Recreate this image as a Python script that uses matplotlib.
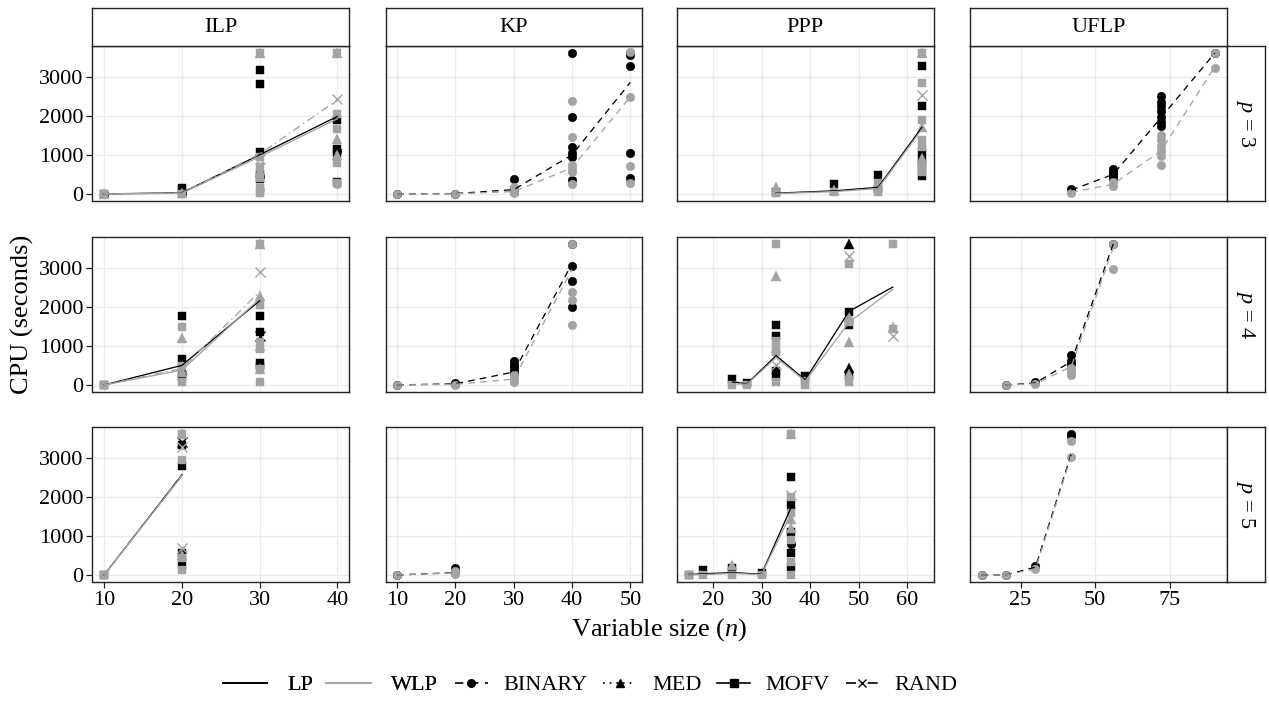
import matplotlib
matplotlib.use("Agg")
import matplotlib.pyplot as plt
from matplotlib.lines import Line2D

plt.rcParams["font.family"] = ["Liberation Serif", "DejaVu Serif"]
plt.rcParams["mathtext.fontset"] = "custom"
plt.rcParams["mathtext.rm"] = "Liberation Serif"
plt.rcParams["mathtext.it"] = "Liberation Serif:italic"

PROBLEMS = ["ILP", "KP", "PPP", "UFLP"]
P_VALUES = [3, 4, 5]
X_TICKS = {"ILP": [10, 20, 30, 40], "KP": [10, 20, 30, 40, 50],
           "PPP": [20, 30, 40, 50, 60], "UFLP": [25, 50, 75]}
Y_TICKS = [0, 1000, 2000, 3000]
TIME_LIMIT = 3600
METHODS = ["LP", "WLP"]
STRATEGIES = ["BINARY", "MED", "MOFV", "RAND"]

# ---- ILP ----
ILP_P3_N = [10, 20, 30, 40]
ILP_P3_LP_MOFV = [0, 30, 1000, 1980]
ILP_P3_WLP_MOFV = [0, 20, 950, 1920]
ILP_P3_WLP_RAND = [0, 20, 1020, 2400]
ILP_P3_LP_PTS = [(10, 0, "MOFV"), (20, 150, "MOFV"), (20, 60, "MOFV"), (30, 3160, "MOFV"),
                 (30, 2800, "MOFV"), (30, 1080, "MOFV"), (30, 520, "MOFV"), (30, 380, "MOFV"),
                 (40, 1880, "MOFV"), (40, 1150, "MOFV"), (40, 1050, "MOFV"), (40, 300, "MOFV"),
                 (10, 0, "BINARY"), (20, 30, "BINARY"), (30, 450, "BINARY"), (40, 1100, "BINARY")]
ILP_P3_WLP_PTS = [(10, 0, "MOFV"), (20, 0, "MOFV"), (30, 3600, "MOFV"), (30, 950, "MOFV"),
                  (30, 700, "MOFV"), (30, 400, "MOFV"), (30, 150, "MOFV"), (30, 30, "MOFV"),
                  (40, 3600, "MOFV"), (40, 2040, "MOFV"), (40, 1650, "MOFV"), (40, 790, "MOFV"),
                  (40, 280, "MOFV"), (10, 0, "MED"), (20, 20, "MED"), (30, 3600, "MED"),
                  (30, 600, "MED"), (40, 3600, "MED"), (40, 1395, "MED"), (40, 1000, "MED"),
                  (30, 900, "RAND"), (40, 2415, "RAND"), (30, 100, "BINARY"), (40, 250, "BINARY")]

ILP_P4_N = [10, 20, 30]
ILP_P4_LP_MOFV = [0, 500, 2150]
ILP_P4_WLP_MOFV = [0, 380, 2200]
ILP_P4_WLP_RAND = [0, 420, 2380]
ILP_P4_LP_PTS = [(10, 0, "MOFV"), (20, 1755, "MOFV"), (20, 665, "MOFV"), (20, 195, "MOFV"),
                 (30, 1770, "MOFV"), (30, 1345, "MOFV"), (30, 560, "MOFV"), (30, 480, "MOFV"),
                 (20, 300, "BINARY"), (30, 1250, "RAND")]
ILP_P4_WLP_PTS = [(10, 0, "MOFV"), (20, 1475, "MOFV"), (20, 490, "MOFV"), (20, 70, "MOFV"),
                  (30, 3600, "MOFV"), (30, 2030, "MOFV"), (30, 1090, "MOFV"), (30, 920, "MOFV"),
                  (30, 410, "MOFV"), (30, 70, "MOFV"), (20, 1190, "MED"), (20, 320, "MED"),
                  (30, 3600, "MED"), (30, 2260, "MED"), (30, 1000, "MED"), (30, 420, "MED"),
                  (30, 2880, "RAND"), (20, 400, "RAND")]

ILP_P5_N = [10, 20]
ILP_P5_LP_MOFV = [0, 2560]
ILP_P5_WLP_MOFV = [0, 2530]
ILP_P5_WLP_RAND = [0, 2545]
ILP_P5_LP_PTS = [(10, 0, "MOFV"), (20, 3325, "MOFV"), (20, 2790, "MOFV"), (20, 555, "MOFV"),
                 (20, 255, "MOFV"), (20, 3400, "RAND")]
ILP_P5_WLP_PTS = [(10, 0, "MOFV"), (20, 3600, "MOFV"), (20, 2940, "MOFV"), (20, 440, "MOFV"),
                  (20, 130, "MOFV"), (20, 3600, "MED"), (20, 500, "MED"),
                  (20, 3280, "RAND"), (20, 680, "RAND")]

# ---- KP ----
KP_P3_N = [10, 20, 30, 40, 50]
KP_P3_LP_BINARY = [0, 10, 110, 1000, 2850]
KP_P3_WLP_BINARY = [0, 5, 60, 670, 2480]
KP_P3_LP_PTS = [(10, 0, "BINARY"), (20, 10, "BINARY"), (30, 370, "BINARY"), (30, 150, "BINARY"),
                (30, 60, "BINARY"), (40, 3600, "BINARY"), (40, 1970, "BINARY"), (40, 1190, "BINARY"),
                (40, 1050, "BINARY"), (40, 950, "BINARY"), (40, 360, "BINARY"), (50, 3600, "BINARY"),
                (50, 3550, "BINARY"), (50, 3265, "BINARY"), (50, 1040, "BINARY"), (50, 400, "BINARY")]
KP_P3_WLP_PTS = [(10, 0, "BINARY"), (20, 5, "BINARY"), (30, 180, "BINARY"), (30, 80, "BINARY"),
                 (30, 20, "BINARY"), (40, 2370, "BINARY"), (40, 1445, "BINARY"), (40, 740, "BINARY"),
                 (40, 640, "BINARY"), (40, 570, "BINARY"), (40, 255, "BINARY"), (50, 3620, "BINARY"),
                 (50, 2480, "BINARY"), (50, 715, "BINARY"), (50, 270, "BINARY")]

KP_P4_N = [10, 20, 30, 40]
KP_P4_LP_BINARY = [0, 30, 330, 3100]
KP_P4_WLP_BINARY = [0, 15, 150, 2950]
KP_P4_LP_PTS = [(10, 0, "BINARY"), (20, 60, "BINARY"), (20, 20, "BINARY"), (30, 600, "BINARY"),
                (30, 520, "BINARY"), (30, 450, "BINARY"), (30, 380, "BINARY"), (30, 300, "BINARY"),
                (40, 3600, "BINARY"), (40, 3050, "BINARY"), (40, 2650, "BINARY"), (40, 2000, "BINARY")]
KP_P4_WLP_PTS = [(10, 0, "BINARY"), (20, 10, "BINARY"), (30, 250, "BINARY"), (30, 150, "BINARY"),
                 (30, 80, "BINARY"), (40, 3600, "BINARY"), (40, 2380, "BINARY"), (40, 2160, "BINARY"),
                 (40, 1520, "BINARY")]

KP_P5_N = [10, 20]
KP_P5_LP_BINARY = [0, 60]
KP_P5_WLP_BINARY = [0, 50]
KP_P5_LP_PTS = [(10, 0, "BINARY"), (20, 170, "BINARY"), (20, 60, "BINARY")]
KP_P5_WLP_PTS = [(10, 0, "BINARY"), (20, 100, "BINARY"), (20, 30, "BINARY")]

# ---- PPP ----
PPP_P3_N = [33, 45, 54, 63]
PPP_P3_LP_MOFV = [20, 80, 170, 1700]
PPP_P3_WLP_MOFV = [10, 60, 140, 1650]
PPP_P3_LP_PTS = [(33, 50, "MOFV"), (45, 255, "MOFV"), (54, 485, "MOFV"), (54, 120, "MOFV"),
                 (63, 3265, "MOFV"), (63, 2245, "MOFV"), (63, 1080, "MOFV"), (63, 870, "MOFV"),
                 (63, 655, "MOFV"), (63, 460, "MOFV")]
PPP_P3_WLP_PTS = [(33, 30, "MOFV"), (45, 60, "MOFV"), (54, 270, "MOFV"), (54, 50, "MOFV"),
                  (63, 3600, "MOFV"), (63, 2840, "MOFV"), (63, 1890, "MOFV"), (63, 1380, "MOFV"),
                  (63, 1200, "MOFV"), (63, 740, "MOFV"), (63, 570, "MOFV"), (33, 190, "MED"),
                  (45, 100, "MED"), (54, 200, "MED"), (63, 3600, "MED"), (63, 1700, "MED"),
                  (63, 920, "MED"), (63, 2540, "RAND")]

PPP_P4_N = [24, 27, 33, 39, 48, 57]
PPP_P4_LP_MOFV = [80, 30, 750, 130, 1880, 2500]
PPP_P4_WLP_MOFV = [30, 20, 700, 100, 1600, 2440]
PPP_P4_LP_PTS = [(24, 150, "MOFV"), (27, 60, "MOFV"), (33, 1535, "MOFV"), (33, 1260, "MOFV"),
                 (33, 365, "MOFV"), (33, 240, "MOFV"), (39, 220, "MOFV"), (48, 1875, "MOFV"),
                 (48, 1535, "MOFV"), (48, 280, "MOFV"), (48, 3600, "MED"), (48, 425, "MED")]
PPP_P4_WLP_PTS = [(24, 0, "MOFV"), (27, 0, "MOFV"), (33, 3600, "MOFV"), (33, 1130, "MOFV"),
                  (33, 1000, "MOFV"), (33, 835, "MOFV"), (33, 70, "MOFV"), (39, 0, "MOFV"),
                  (39, 100, "MOFV"), (48, 3090, "MOFV"), (48, 1600, "MOFV"), (48, 70, "MOFV"),
                  (57, 3600, "MOFV"), (57, 1430, "MOFV"), (33, 2780, "MED"), (33, 950, "MED"),
                  (48, 1730, "MED"), (48, 1090, "MED"), (48, 280, "MED"), (57, 1480, "MED"),
                  (48, 3290, "RAND"), (57, 1260, "RAND"), (33, 500, "RAND")]

PPP_P5_N = [15, 18, 24, 30, 36]
PPP_P5_LP_MOFV = [10, 30, 60, 20, 1700]
PPP_P5_WLP_MOFV = [0, 10, 40, 10, 1550]
PPP_P5_LP_PTS = [(15, 0, "MOFV"), (18, 130, "MOFV"), (24, 190, "MOFV"), (30, 40, "MOFV"),
                 (36, 2490, "MOFV"), (36, 1790, "MOFV"), (36, 1110, "MOFV"), (36, 555, "MOFV"),
                 (36, 215, "MOFV"), (36, 800, "BINARY")]
PPP_P5_WLP_PTS = [(15, 0, "MOFV"), (18, 0, "MOFV"), (24, 0, "MOFV"), (30, 0, "MOFV"),
                  (36, 3600, "MOFV"), (36, 2000, "MOFV"), (36, 1580, "MOFV"), (36, 895, "MOFV"),
                  (36, 340, "MOFV"), (36, 0, "MOFV"), (24, 255, "MED"), (36, 3600, "MED"),
                  (36, 1430, "MED"), (36, 1200, "MED"), (36, 2045, "RAND")]

# ---- UFLP ----
UFLP_P3_N = [42, 56, 72, 90]
UFLP_P3_LP_BINARY = [100, 500, 1950, 3600]
UFLP_P3_WLP_BINARY = [40, 250, 1100, 3250]
UFLP_P3_LP_PTS = [(42, 120, "BINARY"), (56, 630, "BINARY"), (56, 560, "BINARY"), (56, 500, "BINARY"),
                  (56, 450, "BINARY"), (56, 400, "BINARY"), (72, 2510, "BINARY"), (72, 2340, "BINARY"),
                  (72, 2250, "BINARY"), (72, 2110, "BINARY"), (72, 1970, "BINARY"), (72, 1830, "BINARY"),
                  (72, 1740, "BINARY"), (90, 3600, "BINARY")]
UFLP_P3_WLP_PTS = [(42, 30, "BINARY"), (56, 300, "BINARY"), (56, 200, "BINARY"), (72, 1510, "BINARY"),
                   (72, 1370, "BINARY"), (72, 1230, "BINARY"), (72, 1090, "BINARY"), (72, 980, "BINARY"),
                   (72, 740, "BINARY"), (90, 3600, "BINARY"), (90, 3220, "BINARY")]

UFLP_P4_N = [20, 30, 42, 56]
UFLP_P4_LP_BINARY = [0, 50, 600, 3600]
UFLP_P4_WLP_BINARY = [0, 30, 470, 3500]
UFLP_P4_LP_PTS = [(20, 0, "BINARY"), (30, 70, "BINARY"), (42, 760, "BINARY"), (42, 620, "BINARY"),
                  (42, 530, "BINARY"), (56, 3600, "BINARY")]
UFLP_P4_WLP_PTS = [(20, 0, "BINARY"), (30, 30, "BINARY"), (42, 440, "BINARY"), (42, 350, "BINARY"),
                   (42, 260, "BINARY"), (56, 3600, "BINARY"), (56, 2960, "BINARY")]

UFLP_P5_N = [12, 20, 30, 42]
UFLP_P5_LP_BINARY = [0, 0, 200, 3100]
UFLP_P5_WLP_BINARY = [0, 0, 150, 3050]
UFLP_P5_LP_PTS = [(12, 0, "BINARY"), (20, 0, "BINARY"), (30, 230, "BINARY"), (42, 3600, "BINARY"),
                  (42, 3560, "BINARY")]
UFLP_P5_WLP_PTS = [(12, 0, "BINARY"), (20, 0, "BINARY"), (30, 150, "BINARY"), (42, 3420, "BINARY"),
                   (42, 3020, "BINARY")]

PANELS = {
    ("ILP", 3): ([("LP", "MOFV", ILP_P3_N, ILP_P3_LP_MOFV), ("WLP", "MOFV", ILP_P3_N, ILP_P3_WLP_MOFV),
                  ("WLP", "RAND", ILP_P3_N, ILP_P3_WLP_RAND)], ILP_P3_LP_PTS, ILP_P3_WLP_PTS),
    ("ILP", 4): ([("LP", "MOFV", ILP_P4_N, ILP_P4_LP_MOFV), ("WLP", "MOFV", ILP_P4_N, ILP_P4_WLP_MOFV),
                  ("WLP", "RAND", ILP_P4_N, ILP_P4_WLP_RAND)], ILP_P4_LP_PTS, ILP_P4_WLP_PTS),
    ("ILP", 5): ([("LP", "MOFV", ILP_P5_N, ILP_P5_LP_MOFV), ("WLP", "MOFV", ILP_P5_N, ILP_P5_WLP_MOFV),
                  ("WLP", "RAND", ILP_P5_N, ILP_P5_WLP_RAND)], ILP_P5_LP_PTS, ILP_P5_WLP_PTS),
    ("KP", 3): ([("LP", "BINARY", KP_P3_N, KP_P3_LP_BINARY), ("WLP", "BINARY", KP_P3_N, KP_P3_WLP_BINARY)],
                KP_P3_LP_PTS, KP_P3_WLP_PTS),
    ("KP", 4): ([("LP", "BINARY", KP_P4_N, KP_P4_LP_BINARY), ("WLP", "BINARY", KP_P4_N, KP_P4_WLP_BINARY)],
                KP_P4_LP_PTS, KP_P4_WLP_PTS),
    ("KP", 5): ([("LP", "BINARY", KP_P5_N, KP_P5_LP_BINARY), ("WLP", "BINARY", KP_P5_N, KP_P5_WLP_BINARY)],
                KP_P5_LP_PTS, KP_P5_WLP_PTS),
    ("PPP", 3): ([("LP", "MOFV", PPP_P3_N, PPP_P3_LP_MOFV), ("WLP", "MOFV", PPP_P3_N, PPP_P3_WLP_MOFV)],
                 PPP_P3_LP_PTS, PPP_P3_WLP_PTS),
    ("PPP", 4): ([("LP", "MOFV", PPP_P4_N, PPP_P4_LP_MOFV), ("WLP", "MOFV", PPP_P4_N, PPP_P4_WLP_MOFV)],
                 PPP_P4_LP_PTS, PPP_P4_WLP_PTS),
    ("PPP", 5): ([("LP", "MOFV", PPP_P5_N, PPP_P5_LP_MOFV), ("WLP", "MOFV", PPP_P5_N, PPP_P5_WLP_MOFV)],
                 PPP_P5_LP_PTS, PPP_P5_WLP_PTS),
    ("UFLP", 3): ([("LP", "BINARY", UFLP_P3_N, UFLP_P3_LP_BINARY), ("WLP", "BINARY", UFLP_P3_N, UFLP_P3_WLP_BINARY)],
                  UFLP_P3_LP_PTS, UFLP_P3_WLP_PTS),
    ("UFLP", 4): ([("LP", "BINARY", UFLP_P4_N, UFLP_P4_LP_BINARY), ("WLP", "BINARY", UFLP_P4_N, UFLP_P4_WLP_BINARY)],
                  UFLP_P4_LP_PTS, UFLP_P4_WLP_PTS),
    ("UFLP", 5): ([("LP", "BINARY", UFLP_P5_N, UFLP_P5_LP_BINARY), ("WLP", "BINARY", UFLP_P5_N, UFLP_P5_WLP_BINARY)],
                  UFLP_P5_LP_PTS, UFLP_P5_WLP_PTS),
}

METHOD_COLOR = {"LP": "#000000", "WLP": "#a3a3a3"}
STRATEGY_LS = {"BINARY": (0, (5, 4)), "MED": (0, (1, 3)), "MOFV": "-", "RAND": (0, (6, 3, 1, 3))}
STRATEGY_MARKER = {"BINARY": "o", "MED": "^", "MOFV": "s", "RAND": "x"}
MARKER_SIZE = {"BINARY": 6.2, "MED": 6.5, "MOFV": 6.0, "RAND": 6.5}

FONT = 16
W, H = 1269, 704
COL_LEFT = [92.5, 385.5, 677, 970]
PANEL_W = 256.5
ROW_TOP = [46, 237, 427]
PANEL_H = 155
STRIP = 38


def fig_rect(left, top, width, height):
    return [left / W, 1 - (top + height) / H, width / W, height / H]


def x_limits(problem):
    ns = [n for (prob, p), (lines, _, _) in PANELS.items() if prob == problem for line in lines for n in line[2]]
    lo, hi = min(ns), max(ns)
    pad = 0.05 * (hi - lo)
    return lo - pad, hi + pad


def draw_points(ax, pts, method):
    for strat in STRATEGIES:
        sel = [(n, y) for n, y, s in pts if s == strat]
        if not sel:
            continue
        mk = STRATEGY_MARKER[strat]
        ax.plot([s[0] for s in sel], [s[1] for s in sel], linestyle="none", marker=mk,
                markersize=MARKER_SIZE[strat], color=METHOD_COLOR[method],
                markeredgewidth=1.0 if mk == "x" else 0.3, zorder=3 if method == "LP" else 4)


def style_box(ax):
    for sp in ax.spines.values():
        sp.set_linewidth(1.0)
        sp.set_color("#222222")


fig = plt.figure(figsize=(W / 100, H / 100), dpi=100)

for ci, prob in enumerate(PROBLEMS):
    xlim = x_limits(prob)
    for ri, p in enumerate(P_VALUES):
        ax = fig.add_axes(fig_rect(COL_LEFT[ci], ROW_TOP[ri], PANEL_W, PANEL_H))
        lines, lp_pts, wlp_pts = PANELS[(prob, p)]
        draw_points(ax, lp_pts, "LP")
        draw_points(ax, wlp_pts, "WLP")
        for method, strat, xs, ys in lines:
            ax.plot(xs, ys, color=METHOD_COLOR[method], linestyle=STRATEGY_LS[strat],
                    linewidth=0.95, zorder=5 if method == "LP" else 6)
        ax.set_xlim(*xlim)
        ax.set_ylim(-0.05 * TIME_LIMIT, 1.05 * TIME_LIMIT)
        ax.set_xticks(X_TICKS[prob])
        ax.set_yticks(Y_TICKS)
        ax.grid(True, color="#ebebeb", linewidth=1.0, zorder=0)
        ax.set_axisbelow(True)
        style_box(ax)
        ax.tick_params(axis="both", labelsize=FONT, length=4.5, width=0.9, pad=2, colors="#222222",
                       labelcolor="black")
        if ci != 0:
            ax.tick_params(axis="y", left=False, labelleft=False)
        if ri != len(P_VALUES) - 1:
            ax.tick_params(axis="x", bottom=False, labelbottom=False)

        if ri == 0:
            sax = fig.add_axes(fig_rect(COL_LEFT[ci], ROW_TOP[0] - STRIP, PANEL_W, STRIP))
            sax.set_xticks([])
            sax.set_yticks([])
            style_box(sax)
            sax.text(0.5, 0.5, prob, ha="center", va="center", fontsize=FONT, transform=sax.transAxes)
        if ci == len(PROBLEMS) - 1:
            sax = fig.add_axes(fig_rect(COL_LEFT[ci] + PANEL_W, ROW_TOP[ri], STRIP, PANEL_H))
            sax.set_xticks([])
            sax.set_yticks([])
            style_box(sax)
            sax.text(0.5, 0.5, f"$p$ = {p}", ha="center", va="center", fontsize=FONT,
                     rotation=-90, transform=sax.transAxes)

panel_mid_x = (COL_LEFT[0] + COL_LEFT[-1] + PANEL_W) / 2
fig.text(panel_mid_x / W, 1 - 630 / H, "Variable size ($n$)", ha="center", va="center", fontsize=19)
fig.text(22 / W, 1 - 314 / H, "CPU (seconds)", ha="center", va="center", rotation=90, fontsize=19)

method_handles = [Line2D([], [], color=METHOD_COLOR[m], linewidth=1.2) for m in METHODS]
leg1 = fig.legend(method_handles, METHODS, loc="center", bbox_to_anchor=(330 / W, 1 - 685 / H),
                  ncol=2, frameon=False, fontsize=FONT, handlelength=2.0, handletextpad=0.9,
                  columnspacing=0.6)
strat_handles = [Line2D([], [], color="black", linewidth=1.2, linestyle=STRATEGY_LS[s],
                        marker=STRATEGY_MARKER[s], markersize=5.5, markeredgewidth=1.0)
                 for s in STRATEGIES]
fig.legend(strat_handles, STRATEGIES, loc="center", bbox_to_anchor=(706 / W, 1 - 685 / H),
           ncol=4, frameon=False, fontsize=FONT, handlelength=1.5, handletextpad=0.7,
           columnspacing=0.7)
fig.add_artist(leg1)

fig.savefig("out.png", dpi=100)
